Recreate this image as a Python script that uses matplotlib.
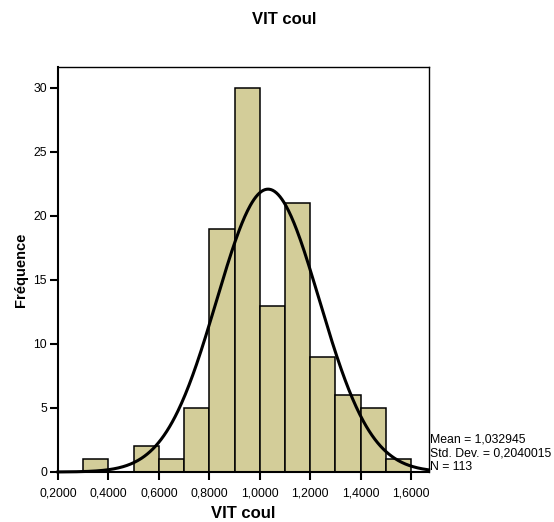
import numpy as np
import matplotlib
matplotlib.use("Agg")
import matplotlib.pyplot as plt

plt.rcParams['font.family'] = ['Liberation Sans', 'DejaVu Sans']

bin_edges = [0.3, 0.4, 0.5, 0.6, 0.7, 0.8, 0.9, 1.0, 1.1, 1.2, 1.3, 1.4, 1.5, 1.6]
counts = [1, 0, 2, 1, 5, 19, 30, 13, 21, 9, 6, 5, 1]
mean = 1.032945
std = 0.2040015
n = 113
xticks = [0.2, 0.4, 0.6, 0.8, 1.0, 1.2, 1.4, 1.6]
xtick_labels = ["0,2000", "0,4000", "0,6000", "0,8000", "1,0000", "1,2000", "1,4000", "1,6000"]
yticks = [0, 5, 10, 15, 20, 25, 30]

W, H = 554, 522
fig = plt.figure(figsize=(W / 100, H / 100), dpi=100)
ax = fig.add_axes([58 / W, (H - 472) / H, (428.7 - 58) / W, (472 - 67) / H])

edges = np.array(bin_edges)
widths = np.diff(edges)
for left, w, c in zip(edges[:-1], widths, counts):
    if c > 0:
        ax.bar(left, c, width=w, align='edge', color='#D3CD99', edgecolor='black', linewidth=1.1, zorder=2)

xmin, xmax = 0.2, 0.2 + (428.7 - 58) / (50.43 / 0.2)
xs = np.linspace(xmin, xmax, 400)
bw = 0.1
ys = n * bw / (std * np.sqrt(2 * np.pi)) * np.exp(-0.5 * ((xs - mean) / std) ** 2)
ax.plot(xs, ys, color='black', linewidth=2.2, zorder=3, clip_on=False)

ax.set_xlim(xmin, xmax)
ax.set_ylim(0, 405 / 12.8)
ax.set_xticks(xticks)
ax.set_xticklabels(xtick_labels)
ax.set_yticks(yticks)
ax.tick_params(axis='both', direction='out', length=6, width=1.5, labelsize=8.8, colors='black')
ax.tick_params(axis='x', pad=5)
ax.tick_params(axis='y', pad=2)
for s in ax.spines.values():
    s.set_linewidth(1.5)
ax.spines['top'].set_linewidth(1.0)
ax.spines['right'].set_linewidth(1.0)

ax.set_xlabel("VIT coul", fontsize=12, fontweight='bold', labelpad=5)
ax.set_ylabel("Fréquence", fontsize=10.5, fontweight='bold', labelpad=4)
fig.text(284.5 / W, 1 - 19 / H, "VIT coul", ha='center', va='center', fontsize=12, fontweight='bold')

stats = "Mean = 1,032945\nStd. Dev. = 0,2040015\nN = 113"
fig.text(430 / W, 1 - 453 / H, stats, ha='left', va='center', fontsize=8.8, linespacing=1.2)

fig.savefig("out.png", dpi=100)
